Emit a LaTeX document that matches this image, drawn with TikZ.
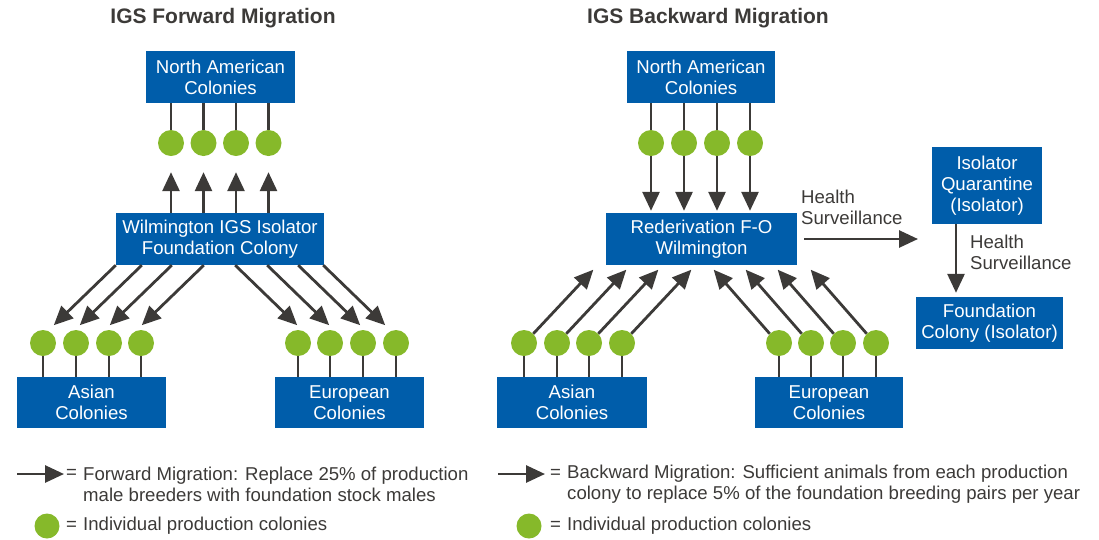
\documentclass[tikz,border=0pt]{standalone}
\usepackage{fontspec}
\setmainfont{Liberation Sans}
\usetikzlibrary{arrows.meta,positioning}
\definecolor{igsblue}{HTML}{005DAA}
\definecolor{igsgreen}{HTML}{86B92A}
\definecolor{igsgray}{HTML}{3C3A38}

\begin{document}
\begin{tikzpicture}[x=1pt,y=-1pt,
	colbox/.style={fill=igsblue,text=white,inner sep=0pt,align=center,font=\fontsize{18.6}{21}\selectfont},
	colony/.style={circle,fill=igsgreen,minimum size=26pt,inner sep=0pt},
	stem/.style={igsgray,line width=2.8pt},
	arr/.style={igsgray,line width=2.8pt,-{Triangle[length=19pt,width=17pt]}},
	lbl/.style={text=igsgray,align=left,inner sep=0pt,font=\fontsize{18.6}{21}\selectfont},
	title/.style={text=igsgray,inner sep=0pt,font=\fontsize{21}{25}\selectfont\bfseries}]
\useasboundingbox (0,0) rectangle (1099,539);

% forward migration
\node[title] (fwdTitle) at (223,18.5) {IGS Forward Migration};
\node[colbox,minimum width=149pt,minimum height=52pt] (naL) at (220.5,77) {North American\\Colonies};
\node[colbox,minimum width=208pt,minimum height=52pt] (wilm) at (220,239) {Wilmington IGS Isolator\\Foundation Colony};
\node[colbox,minimum width=149pt,minimum height=51pt] (asL) at (91.5,402.5) {Asian\\Colonies};
\node[colbox,minimum width=149pt,minimum height=51pt] (euL) at (349.5,402.5) {European\\Colonies};
\foreach \i/\x in {1/171,2/203.5,3/236,4/268.5}{
	\node[colony] (nL\i) at (\x,143) {};
	\draw[stem] (nL\i.north) -- (nL\i |- naL.south);
	\draw[arr] (nL\i |- wilm.north) -- ([yshift=-16pt]nL\i.south);
}
\foreach \i/\x in {1/43,2/76,3/109,4/141}{
	\node[colony] (aL\i) at (\x,343) {};
	\draw[stem] (aL\i.south) -- (aL\i |- asL.north);
}
\foreach \i/\x in {1/298,2/330,3/363,4/396}{
	\node[colony] (eL\i) at (\x,343) {};
	\draw[stem] (eL\i.south) -- (eL\i |- euL.north);
}
\foreach \s in {0,26,56,88}
	\draw[arr] ([xshift=\s pt]wilm.south west) -- ++(-62,60);
\foreach \s in {89,57,26,1}
	\draw[arr] ([xshift=-\s pt]wilm.south east) -- ++(62,60);

% backward migration
\node[title] (bwdTitle) at (708,18.5) {IGS Backward Migration};
\node[colbox,minimum width=148pt,minimum height=52pt] (naR) at (701,77) {North American\\Colonies};
\node[colbox,minimum width=191pt,minimum height=52pt] (reder) at (701.5,239) {Rederivation F-O\\Wilmington};
\node[colbox,minimum width=150pt,minimum height=51pt] (asR) at (572,402.5) {Asian\\Colonies};
\node[colbox,minimum width=148pt,minimum height=51pt] (euR) at (829,402.5) {European\\Colonies};
\foreach \i/\x in {1/651,2/684,3/717,4/750}{
	\node[colony] (nR\i) at (\x,143) {};
	\draw[stem] (nR\i.north) -- (nR\i |- naR.south);
	\draw[arr,shorten >=2pt] (nR\i.south) -- (nR\i |- reder.north);
}
\foreach \i/\x in {1/524,2/557,3/589,4/622}{
	\node[colony] (aR\i) at (\x,343) {};
	\draw[stem] (aR\i.south) -- (aR\i |- asR.north);
	\draw[arr] (aR\i.north east) -- ++(60,-64);
}
\foreach \i/\x in {1/779,2/811,3/843,4/876}{
	\node[colony] (eR\i) at (\x,343) {};
	\draw[stem] (eR\i.south) -- (eR\i |- euR.north);
	\draw[arr] (eR\i.north west) -- ++(-56,-64);
}
\node[colbox,minimum width=110pt,minimum height=77pt] (iso) at (987,185.5) {Isolator\\Quarantine\\(Isolator)};
\node[colbox,minimum width=147pt,minimum height=52pt] (found) at (989.5,323) {Foundation\\Colony (Isolator)};
\coordinate (hsEnd) at (918,239);
\draw[arr] ([xshift=7pt]reder.east) -- (hsEnd);
\node[lbl,anchor=west] (hs1) at (801,207.5) {Health\\Surveillance};
\coordinate (isoOut) at (956,224);
\draw[arr,shorten >=4pt] (isoOut) -- (isoOut |- found.north);
\node[lbl,anchor=west] (hs2) at (970,252.5) {Health\\Surveillance};

% legend
\coordinate (fwdA) at (17,474);
\coordinate (fwdB) at (64,474);
\draw[arr] (fwdA) -- (fwdB);
\node[lbl,anchor=west] (fwdEq) at (66,474) {=};
\node[lbl,anchor=west] (fwdTxt) at (83,484.5) {Forward Migration: Replace 25\% of production\\male breeders with foundation stock males};
\node[colony,minimum size=25pt] (dotL) at (47,526) {};
\node[lbl,anchor=west] (dotLEq) at (66,526) {=};
\node[lbl,anchor=west] (dotLTxt) at (83,526) {Individual production colonies};
\coordinate (bwdA) at (498,474);
\coordinate (bwdB) at (545,474);
\draw[arr] (bwdA) -- (bwdB);
\node[lbl,anchor=west] (bwdEq) at (550,474) {=};
\node[lbl,anchor=west] (bwdTxt) at (567,484.5) {Backward Migration: Sufficient animals from each production\\colony to replace 5\% of the foundation breeding pairs per year};
\node[colony,minimum size=25pt] (dotR) at (529,526) {};
\node[lbl,anchor=west] (dotREq) at (550,526) {=};
\node[lbl,anchor=west] (dotRTxt) at (567,526) {Individual production colonies};
\end{tikzpicture}
\end{document}
